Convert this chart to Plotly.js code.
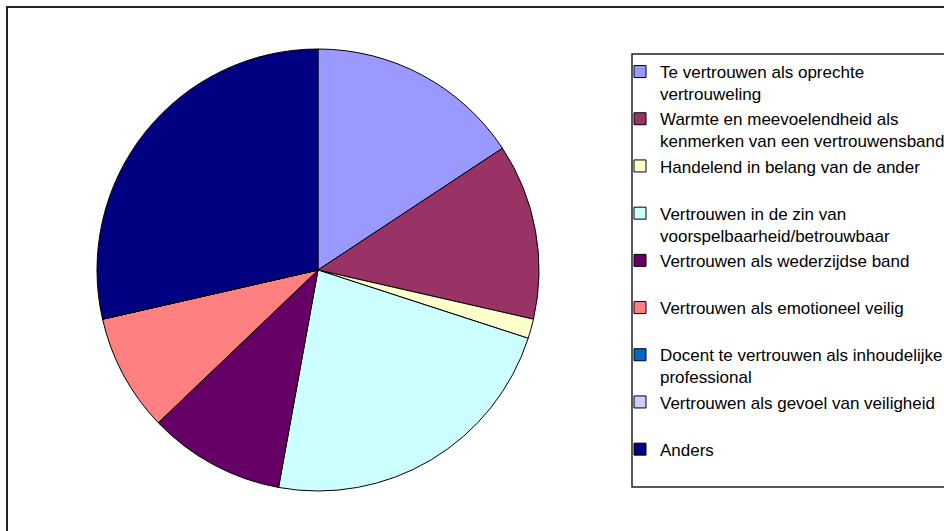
<!DOCTYPE html>
<html>
<head>
<meta charset="utf-8">
<script src="https://cdn.plot.ly/plotly-3.0.1.min.js"></script>
<style>html,body{margin:0;padding:0;background:#fff;}#chart{width:944px;height:531px;}</style>
</head>
<body>
<div id="chart"></div>
<script>
// Categories (legend labels, wrapped as in the reference)
var categories = [
  "Te vertrouwen als oprechte<br>vertrouweling",
  "Warmte en meevoelendheid als<br>kenmerken van een vertrouwensband",
  "Handelend in belang van de ander<br>\u00a0",
  "Vertrouwen in de zin van<br>voorspelbaarheid/betrouwbaar",
  "Vertrouwen als wederzijdse band<br>\u00a0",
  "Vertrouwen als emotioneel veilig<br>\u00a0",
  "Docent te vertrouwen als inhoudelijke<br>professional",
  "Vertrouwen als gevoel van veiligheid<br>\u00a0",
  "Anders<br>\u00a0"
];
// Values (counts)
var values = [11, 9, 1, 16, 7, 6, 0, 0, 20];
// Slice colours
var colors = ["#9999FF", "#993366", "#FFFFCC", "#CCFFFF", "#660066", "#FF8080", "#0066CC", "#CCCCFF", "#000080"];

var W = 944, H = 531;
var cx = 318, cy = 270, r = 221;

var data = [{
  type: "pie",
  labels: categories,
  values: values,
  sort: false,
  direction: "clockwise",
  rotation: 0,
  textinfo: "none",
  hoverinfo: "label+value+percent",
  marker: {colors: colors, line: {color: "#000000", width: 1}},
  domain: {x: [(cx - r) / W, (cx + r) / W], y: [(H - cy - r) / H, (H - cy + r) / H]},
  showlegend: true
}];

var layout = {
  width: W, height: H,
  margin: {l: 0, r: 0, t: 0, b: 0, autoexpand: false},
  paper_bgcolor: "#ffffff",
  font: {family: "Liberation Sans, Arial, sans-serif", color: "#000000"},
  showlegend: true,
  legend: {
    x: 620 / W, xanchor: "left",
    y: 1 - 54 / H, yanchor: "top",
    valign: "top",
    bgcolor: "rgba(0,0,0,0)",
    borderwidth: 0,
    font: {family: "Liberation Sans, Arial, sans-serif", size: 17, color: "#000000"},
    traceorder: "normal"
  },
  shapes: [
    {type: "rect", xref: "paper", yref: "paper", x0: 7 / W, x1: 1.05, y0: -0.05, y1: 1 - 7 / H,
     line: {color: "#222222", width: 2}, fillcolor: "rgba(0,0,0,0)", layer: "below"},
    {type: "rect", xref: "paper", yref: "paper", x0: 632 / W, x1: 1.05, y0: 1 - 487 / H, y1: 1 - 54 / H,
     line: {color: "#222222", width: 1.5}, fillcolor: "rgba(0,0,0,0)", layer: "below"}
  ]
};

Plotly.newPlot("chart", data, layout, {displayModeBar: false, staticPlot: true});
</script>
</body>
</html>
